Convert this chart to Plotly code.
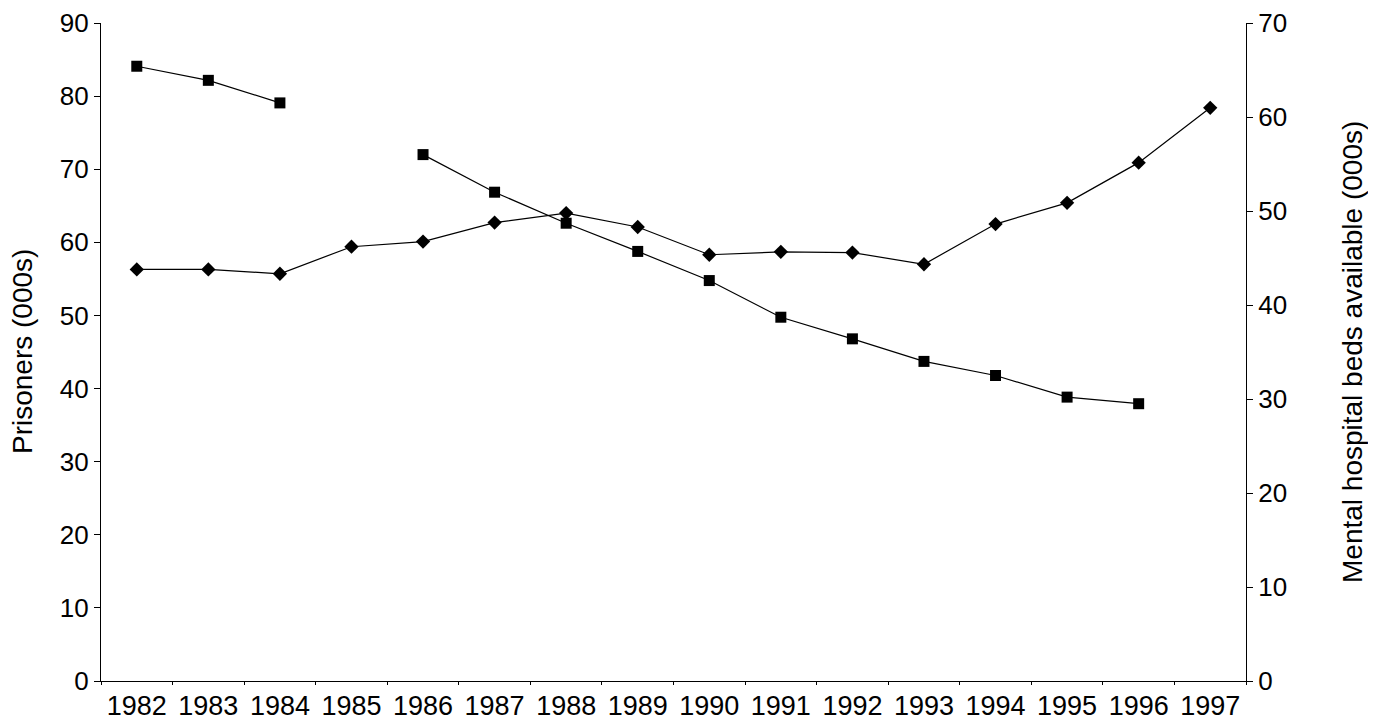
import plotly.graph_objects as go

years = ["1982", "1983", "1984", "1985", "1986", "1987", "1988", "1989",
         "1990", "1991", "1992", "1993", "1994", "1995", "1996", "1997"]
prisoners = [56.3, 56.3, 55.7, 59.4, 60.1, 62.7, 64.0, 62.1,
             58.3, 58.7, 58.6, 57.0, 62.5, 65.4, 70.9, 78.4]
beds = [65.4, 63.9, 61.5, None, 56.0, 52.0, 48.7, 45.7,
        42.6, 38.7, 36.4, 34.0, 32.5, 30.2, 29.5, None]

family = "Liberation Sans, Arial, sans-serif"
xfont = dict(family=family, size=27, color="black")
yfont = dict(family=family, size=26, color="black")
title_font = dict(family=family, size=28, color="black")

fig = go.Figure()

# prisoners, left axis
fig.add_trace(go.Scatter(
    x=years, y=prisoners, mode="lines+markers",
    line=dict(color="black", width=1.2),
    marker=dict(symbol="diamond", size=11, color="black"),
    name="Prisoners", yaxis="y"))

# mental hospital beds, right axis
fig.add_trace(go.Scatter(
    x=years, y=beds, mode="lines+markers",
    line=dict(color="black", width=1.2),
    marker=dict(symbol="square", size=11, color="black"),
    name="Mental hospital beds", yaxis="y2", connectgaps=False))

# page body has an 8px margin, so the figure is 8px smaller than the window
fig.update_layout(
    width=1368, height=712,
    paper_bgcolor="white", plot_bgcolor="white",
    font=yfont, showlegend=False,
    margin=dict(l=93, r=130, t=15, b=39),
    xaxis=dict(type="category", range=[-0.5, 15.5], tickson="boundaries",
               showline=True, linecolor="black", linewidth=1.2,
               ticks="outside", ticklen=3, tickcolor="black",
               showgrid=False, zeroline=False, tickfont=xfont, automargin=False),
    yaxis=dict(range=[0, 90], dtick=10, showline=True, linecolor="black",
               linewidth=1.2, ticks="outside", ticklen=6, tickcolor="black",
               showgrid=False, zeroline=False, tickfont=yfont, automargin=False,
               ticklabeloverflow="allow"),
    yaxis2=dict(range=[0, 70], dtick=10, overlaying="y", side="right",
                showline=True, linecolor="black", linewidth=1.2,
                ticks="outside", ticklen=6, tickcolor="black",
                showgrid=False, zeroline=False, tickfont=yfont, automargin=False,
                ticklabeloverflow="allow"),
    annotations=[
        dict(text="Prisoners (000s)", xref="paper", yref="paper",
             x=0, y=0.5, xshift=-79, textangle=-90, showarrow=False,
             font=title_font, xanchor="center", yanchor="middle"),
        dict(text="Mental hospital beds available (000s)", xref="paper",
             yref="paper", x=1, y=0.5, xshift=106, textangle=-90,
             showarrow=False, font=title_font, xanchor="center",
             yanchor="middle"),
    ],
)

fig.write_html("out.html")
